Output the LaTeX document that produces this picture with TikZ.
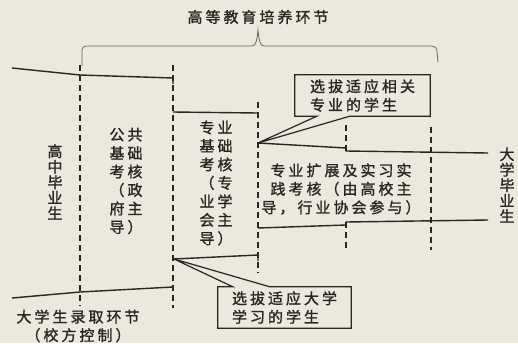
\documentclass[tikz,border=0pt]{standalone}
\usepackage{fontspec}
\newfontfamily\cjk[LetterSpace=20,FakeBold=1.3]{Noto Sans CJK SC}
\usetikzlibrary{calc}
\definecolor{paper}{RGB}{236,232,221}
\definecolor{ink}{RGB}{40,37,35}
\begin{document}
\begin{tikzpicture}[x=1pt,y=-1pt,
  txt/.style={font=\cjk\fontsize{15}{18.5}\selectfont, text=ink, inner sep=0pt, align=center},
  vtxt/.style={txt, font=\cjk\fontsize{15}{15.5}\selectfont},
  flow/.style={draw=ink, line width=1.4pt},
  sepline/.style={draw=ink, line width=1.8pt, dash pattern=on 6pt off 4pt},
  bracel/.style={draw=ink!70, line width=0.8pt},
  callout/.style={draw=ink, line width=1.2pt, line join=miter}]
\fill[paper] (0,0) rectangle (518,343);

% title and brace
\node[txt] (title) at (258,17) {高等教育培养环节};
\draw[bracel, rounded corners=4pt] (82,66) -- (82,46) -- (252,46);
\draw[bracel] (252,46) .. controls (256,46) and (257,40) .. (258,30)
  .. controls (259,40) and (260,46) .. (264,46) -- (432,46)
  .. controls (435,46) and (437,48) .. (437,52) -- (438,62);

% separators
\draw[sepline] (80,65) -- (80,306);
\draw[sepline] (173,65) -- (173,308);
\draw[sepline] (258,102) -- (258,273);
\draw[sepline] (346,125) -- (346,153);
\draw[sepline] (346,222) -- (346,250);
\draw[sepline] (431,127) -- (431,250);

% funnel coordinates
\coordinate (a1) at (12,68);
\coordinate (a2) at (80,75);
\coordinate (a3) at (173,78);
\coordinate (b1) at (173,112);
\coordinate (b2) at (258,113);
\coordinate (tp) at (258,143);
\coordinate (c2) at (346,148);
\coordinate (c3) at (346,151);
\coordinate (c4) at (488,153);
\coordinate (d1) at (12,298);
\coordinate (d2) at (80,292);
\coordinate (d3) at (173,287);
\coordinate (bp) at (174,259);
\coordinate (e2) at (258,255);
\coordinate (f1) at (258,228);
\coordinate (f2) at (346,225);
\coordinate (f3) at (346,222);
\coordinate (f4) at (488,220);

\draw[flow] (a1) -- (a2) -- (a3) -- ++(0,6);
\draw[flow] (b1) -- (b2) -- ++(0,5);
\draw[flow] (tp) -- (c2) -- (c3) -- (c4);
\draw[flow] (d1) -- (d2) -- (d3);
\draw[flow] (bp) -- (e2) -- ++(0,6);
\draw[flow] (f1) -- (f2) -- (f3) -- (f4);

% texts
\node[vtxt] (hs) at (55,182) {高\\中\\毕\\业\\生};
\node[txt] (pub) at (126,181) {公共\\基础\\考核\\（政\\府主\\导）};
\node[txt] (maj) at (216,183) {专业\\基础\\考核\\（专\\业学\\会主\\导）};
\node[txt] (ext) at (341,189) {专业扩展及实习实\\践考核（由高校主\\导，行业协会参与）};
\node[vtxt] (grad) at (507,185) {大\\学\\毕\\业\\生};
\node[txt] (adm) at (78,326) {大学生录取环节\\（校方控制）};

% callouts
\node[txt, align=left, minimum width=135pt, minimum height=41pt] (tb) at (362.5,95.5) {选拔适应相关\\专业的学生};
\draw[callout] ($(tb.south west)+(22,0)$) -- (tb.south west) -- (tb.north west) -- (tb.north east) -- (tb.south east) -- ($(tb.south west)+(55,0)$) -- (tp) -- cycle;
\node[txt, align=left, minimum width=133pt, minimum height=41pt] (bb) at (284.5,307.5) {选拔适应大学\\学习的学生};
\draw[callout] ($(bb.north west)+(15,0)$) -- (bb.north west) -- (bb.south west) -- (bb.south east) -- (bb.north east) -- ($(bb.north west)+(52,0)$) -- (bp) -- cycle;
\end{tikzpicture}
\end{document}
